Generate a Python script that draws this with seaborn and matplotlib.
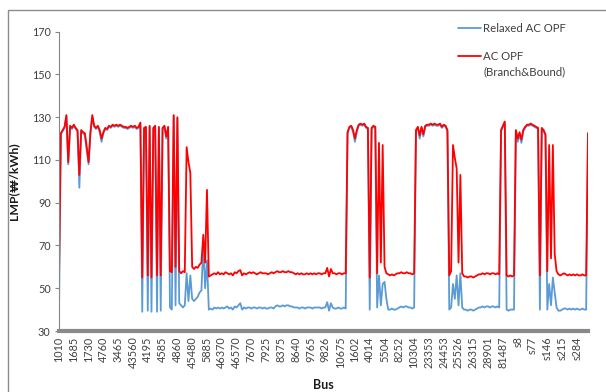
import pandas as pd
import matplotlib.pyplot as plt
import matplotlib.patches as mpatches
import seaborn as sns
import numpy as np

# ================= DATOS =================
# etiquetas del eje X (una cada 8 buses)
BUS_LABELS = ["1010", "1685", "1730", "4760", "3465", "43560", "4195", "4585", "4860", "45480",
              "5885", "46370", "46570", "7670", "7925", "8375", "8640", "9765", "9826", "10675",
              "1602", "4014", "5504", "8252", "10304", "23353", "24453", "25526", "26315", "28901",
              "81487", "s8", "s77", "s146", "s215", "s284"]
PASO = 8

# AC OPF (Branch&Bound)
lmp_bb = [
    55, 122.5, 124, 125.5, 131, 109, 126, 125,
    126.5, 125, 124, 103, 124, 123, 122.5, 116,
    109, 123, 131, 126, 125, 126, 124, 120,
    123, 125, 124.5, 126, 125.5, 126.5, 126, 126.5,
    126, 126.5, 126, 125.5, 125.5, 125, 125.5, 126,
    125.5, 126, 125, 125.5, 127.5, 55, 125, 125.5,
    56, 126, 55, 125, 126, 56, 125.5, 56,
    125, 126, 121, 125.5, 58, 57.5, 131, 60,
    130, 58, 57, 58, 57.5, 116, 109, 104,
    60, 59, 60, 59.5, 61, 62, 75, 62,
    96, 55.5, 56, 56.5, 57, 56.5, 57.5, 56.5,
    57, 56.5, 57.5, 57, 56.5, 57, 56, 57.5,
    57, 58, 58.5, 56, 57, 56.5, 57, 57.5,
    57, 57.5, 57, 56.5, 57, 57.5, 57, 57,
    57, 56.5, 57, 57.5, 57, 57.5, 58, 57.5,
    57.5, 58, 57.5, 57.5, 58, 57.5, 57.5, 57,
    56.5, 57, 56.5, 57, 56.5, 56.5, 57, 56.5,
    57, 56.5, 57, 56.5, 57, 57, 56.5, 57,
    57, 59.5, 55.5, 59, 57, 57, 56.5, 57,
    57, 56.5, 57, 57, 123, 125.5, 126, 124,
    120, 124, 126.5, 127, 126.5, 127, 125.5, 125,
    55, 125, 126, 125.5, 57, 118, 62, 117,
    60, 57, 56.5, 56, 56.5, 56, 56.5, 57,
    57, 57.5, 57, 57, 57.5, 57, 57, 56.5,
    57, 124, 125.5, 121.5, 125.5, 122, 126, 126.5,
    126.5, 127, 126.5, 127, 126.5, 126.5, 127, 125.5,
    126.5, 126, 124, 56, 58, 117, 111, 106,
    62, 103, 57, 55.5, 55.5, 55, 55.5, 55.5,
    55, 55.5, 56, 56.5, 56.5, 57, 56.5, 57,
    57, 56.5, 57, 57, 56.5, 57, 56.5, 124,
    126, 128, 56, 55.5, 56, 55.5, 56, 124,
    120, 123, 119.5, 124, 125.5, 126.5, 126.5, 127,
    126.5, 126, 125.5, 125, 56, 125, 124, 122,
    58, 117, 64, 117, 66, 58, 56.5, 56,
    56.5, 57, 56.5, 56, 56.5, 56, 56.5, 56,
    56.5, 56, 56, 56.5, 56, 56, 122.5,
]

# Relaxed AC OPF
lmp_relax = [
    39, 122, 123.5, 125, 130.5, 108, 125.5, 124.5,
    126, 124.5, 123.5, 97, 123.5, 122.5, 121.5, 114.5,
    108, 122.5, 130, 125.5, 124.5, 125.5, 123, 118.5,
    122.5, 124.5, 124, 125.5, 125, 126, 125.5, 126,
    125.5, 126, 125.5, 125, 125, 124.5, 125, 125.5,
    125, 125.5, 124.5, 125, 127, 39, 124.5, 125,
    39.5, 125.5, 39, 124.5, 125.5, 39, 125, 39.5,
    124.5, 125.5, 120, 125, 41, 40, 130.5, 42,
    129.5, 43, 42, 41, 42, 57, 44, 56,
    45, 44, 45, 46, 48, 49, 70, 50,
    63, 40, 40.5, 40, 41, 40.5, 41, 40.5,
    41, 40.5, 41, 41.5, 40.5, 41, 40, 41.5,
    41, 42, 43, 40, 41, 40.5, 41, 41,
    40.5, 41, 41, 40.5, 41, 41, 40.5, 41,
    40.5, 40.5, 41, 41, 40.5, 41.5, 42, 41.5,
    41.5, 42, 41.5, 42, 42, 41.5, 41.5, 41,
    41, 41, 40.5, 41, 41, 40.5, 41, 41,
    41, 40.5, 41, 41, 41, 41, 40.5, 41,
    41, 43.5, 39.5, 43, 41, 40.5, 40.5, 41,
    40.5, 40.5, 41, 40.5, 122.5, 125, 125.5, 123,
    118.5, 123, 126, 126.5, 126, 126.5, 125, 124.5,
    40, 124.5, 125.5, 125, 41, 56, 42, 52,
    53, 45, 40, 40, 40.5, 40, 40, 40.5,
    41, 41.5, 41, 41.5, 41.5, 41, 41, 40.5,
    41, 123.5, 125, 120, 125, 121, 125.5, 126,
    126, 126.5, 126, 126.5, 126, 126, 126.5, 125,
    126, 125.5, 123.5, 40, 41, 52, 45, 56,
    42, 57, 41, 40, 40, 39.5, 40, 40,
    39.5, 40, 40.5, 41, 41, 41.5, 41, 41.5,
    41.5, 41, 41.5, 41.5, 41, 41.5, 41, 123.5,
    125.5, 127.5, 40, 39.5, 40, 40, 40, 123.5,
    118.5, 122, 118, 123.5, 125, 126, 126, 126.5,
    126, 125.5, 125, 124.5, 40, 124.5, 123.5, 121.5,
    40, 52, 42, 55, 48, 41, 39.5, 39.5,
    40, 40.5, 40.5, 40, 40.5, 40, 40.5, 40,
    40.5, 40, 40, 40.5, 40, 40, 122.5,
]

SERIES = ["Relaxed AC OPF", "AC OPF"]
COLORES = {"Relaxed AC OPF": "#5B9BD5", "AC OPF": "#FF0000"}

# ================= GRAFICO =================
sns.set_style("white")
plt.rcParams['font.family'] = ['Lato', 'DejaVu Sans']

pos = np.arange(len(lmp_bb))
df = pd.DataFrame({
    "pos": np.concatenate([pos, pos]),
    "LMP": lmp_relax + lmp_bb,
    "serie": [SERIES[0]] * len(pos) + [SERIES[1]] * len(pos),
})

fig = plt.figure(figsize=(6.06, 3.92), dpi=100)
ax = fig.add_axes([59 / 606, 1 - 331 / 392, (588 - 59) / 606, (331 - 31.7) / 392])

for s in SERIES:
    sns.lineplot(data=df[df["serie"] == s], x="pos", y="LMP", color=COLORES[s],
                 linewidth=1.3, label=s, ax=ax, legend=False)

ax.set_xlim(0, len(pos) - 1)
ax.set_ylim(30, 170)
ax.set_yticks(range(30, 171, 20))
ax.set_xticks(range(0, len(pos), PASO))
ax.set_xticklabels(BUS_LABELS, rotation=90)
ax.tick_params(axis="x", length=0, pad=4, labelsize=7.8, colors="#404040")
ax.tick_params(axis="y", length=3, width=0.8, color="#868686", pad=3, labelsize=7.8,
               labelcolor="#404040", left=True)

for lado in ["top", "right"]:
    ax.spines[lado].set_visible(False)
ax.spines["left"].set_color("#868686")
ax.spines["left"].set_linewidth(0.8)
ax.spines["bottom"].set_color("#898989")
ax.spines["bottom"].set_linewidth(3)

ax.set_xlabel("Bus", fontsize=9, fontweight="bold", color="#1a1a1a")
ax.set_ylabel("LMP(₩/kWh)", fontsize=8.8, fontweight="bold", color="#1a1a1a")
ax.xaxis.set_label_coords((323 - 59) / (588 - 59), -(379 - 331) / (331 - 31.7))
ax.yaxis.set_label_coords(-(59 - 19) / (588 - 59), 0.5)

handles = [plt.Line2D([], [], color=COLORES[s], linewidth=1.3) for s in SERIES]
leg = fig.legend(handles, SERIES, loc="upper left", bbox_to_anchor=(458 / 606, 1 - 23 / 392),
                 frameon=False, fontsize=8.2, handlelength=2.0, handletextpad=0.2,
                 labelspacing=1.45, borderpad=0, borderaxespad=0)
for t in leg.get_texts():
    t.set_color("#404040")
fig.text(483 / 606, 1 - 72 / 392, "(Branch&Bound)", fontsize=8.2, color="#404040",
         va="center", ha="left")

# marco del area del grafico
fig.patches.append(mpatches.Rectangle((7.5 / 606, -0.05), 1.2, 1.05 - 10.5 / 392,
                                      transform=fig.transFigure, fill=False,
                                      edgecolor="#8c8c8c", linewidth=1))

plt.savefig("out.png", dpi=100)
plt.close()
